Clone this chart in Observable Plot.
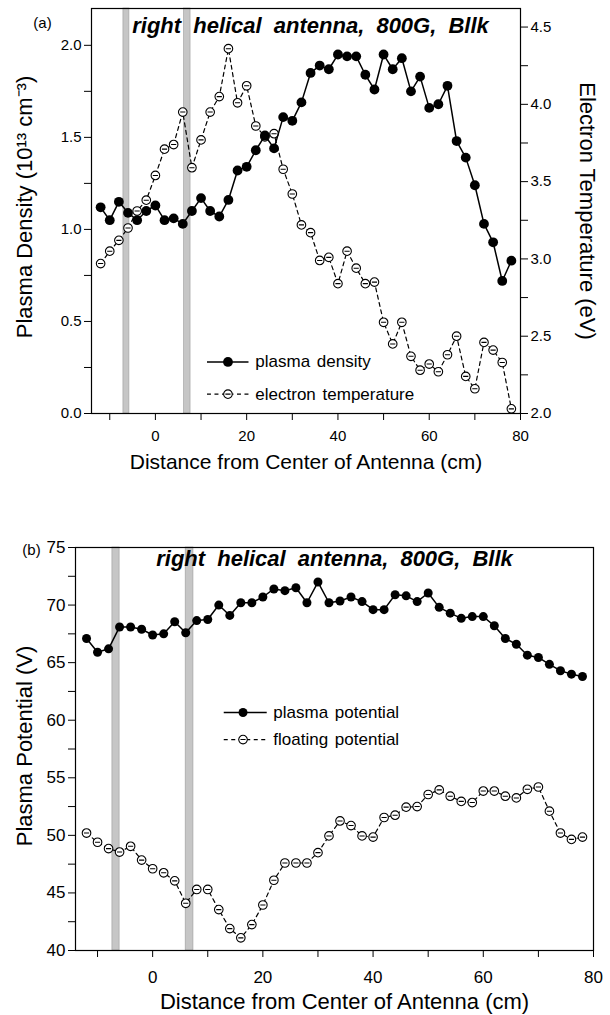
<!DOCTYPE html>
<html><head><meta charset="utf-8">
<script src="https://cdn.jsdelivr.net/npm/d3@7"></script>
<script src="https://cdn.jsdelivr.net/npm/@observablehq/plot@0.6"></script>
<style>
body{margin:0;background:#fff;}
#wrap{position:relative;width:610px;height:1015px;overflow:hidden;background:#fff;}
#wrap svg{position:absolute;left:0;overflow:visible;}
</style></head><body><div id="wrap"></div>
<script>
// ---------- data ----------
const positions = [-12,-10,-8,-6,-4,-2,0,2,4,6,8,10,12,14,16,18,20,22,24,26,28,30,32,34,36,38,40,42,44,46,48,50,52,54,56,58,60,62,64,66,68,70,72,74,76,78];
const density = [1.12,1.05,1.15,1.09,1.05,1.10,1.13,1.05,1.06,1.03,1.10,1.17,1.10,1.07,1.16,1.32,1.34,1.43,1.51,1.44,1.61,1.59,1.69,1.85,1.89,1.87,1.95,1.94,1.94,1.84,1.76,1.95,1.87,1.93,1.75,1.83,1.66,1.68,1.78,1.48,1.39,1.24,1.03,0.93,0.72,0.83];
const temperature = [2.97,3.05,3.12,3.20,3.31,3.38,3.54,3.71,3.74,3.95,3.59,3.77,3.95,4.05,4.36,4.01,4.12,3.86,3.79,3.81,3.58,3.42,3.22,3.17,2.99,3.01,2.84,3.05,2.94,2.84,2.85,2.59,2.45,2.59,2.37,2.28,2.32,2.27,2.38,2.50,2.24,2.16,2.46,2.41,2.33,2.03];
const plasmaPotential = [67.1,65.9,66.2,68.1,68.1,67.9,67.4,67.5,68.55,67.6,68.65,68.75,70.0,69.1,70.2,70.2,70.7,71.4,71.25,71.5,70.2,72.0,70.2,70.35,70.7,70.3,69.6,69.6,70.9,70.8,70.3,71.05,69.8,69.3,68.85,69.0,69.0,68.2,67.1,66.6,65.65,65.45,64.85,64.3,64.0,63.8];
const floatingPotential = [50.2,49.4,48.85,48.55,49.05,47.85,47.1,46.75,46.05,44.1,45.3,45.3,43.55,41.9,41.1,42.25,43.95,46.1,47.6,47.6,47.6,48.5,49.95,51.25,50.85,49.95,49.85,51.55,51.75,52.45,52.5,53.55,53.95,53.4,52.95,52.85,53.85,53.85,53.4,53.25,54.0,54.2,52.1,50.2,49.65,49.85];
const antennaBandsA = [[-7.0,-5.7],[6.3,7.7]];
const antennaBandsB = [[-7.3,-6.0],[6.0,7.4]];
const xMajor = [0,20,40,60,80];
const xMinor = [-10,10,30,50,70];
const densMajor = [0,0.5,1.0,1.5,2.0];
const densMinor = [0.25,0.75,1.25,1.75];
const tempMajor = [2.0,2.5,3.0,3.5,4.0,4.5];
const tempMinor = [2.25,2.75,3.25,3.75,4.25];
const potMajor = [40,45,50,55,60,65,70,75];
const potMinor = [42.5,47.5,52.5,57.5,62.5,67.5,72.5];
const titleText = "right helical antenna, 800G, Bllk";
const xTitle = "Distance from Center of Antenna (cm)";
const legendA = ["plasma density", "electron temperature"];
const legendB = ["plasma potential", "floating potential"];

// ---------- layout ----------
const FONT = "'Liberation Sans', Arial, Helvetica, sans-serif";
const densDomain = [0, 2.2];
const tempDomain = [2, 4.62];
const k = (densDomain[1] - densDomain[0]) / (tempDomain[1] - tempDomain[0]);
const toDens = t => (t - tempDomain[0]) * k;
const fromDens = d => d / k + tempDomain[0];

const theta = {
  draw(context, size) {
    const r = Math.sqrt(size / Math.PI);
    context.moveTo(r, 0);
    context.arc(0, 0, r, 0, 2 * Math.PI);
    context.moveTo(-r * 0.6, 0);
    context.lineTo(r * 0.6, 0);
  }
};

const tableA = positions.map((x, i) => ({x, density: density[i], temp: toDens(temperature[i])}));
const tableB = positions.map((x, i) => ({x, vp: plasmaPotential[i], vf: floatingPotential[i]}));

function axes(yMajor, yMinor, yFmt, fs, xPad) {
  return [
    Plot.axisX({ticks: xMajor, tickSize: 7, tickPadding: xPad, fontSize: fs, label: null, tickFormat: d => String(d)}),
    Plot.axisX({ticks: xMinor, tickSize: 7, tickFormat: () => "", label: null}),
    Plot.axisY({anchor: "left", ticks: yMajor, tickSize: 7, tickPadding: 3, fontSize: fs, tickFormat: yFmt, label: null}),
    Plot.axisY({anchor: "left", ticks: yMinor, tickSize: 7, tickFormat: () => "", label: null})
  ];
}
const bandStyle = {fill: "#c6c6c6", stroke: "#a4a4a4", strokeWidth: 0.7};

// ---------- panel (a) ----------
const la = {x1: 11.3, x2: 20.4, xm: 15.9, xt: 21.9, y: [0.28, 0.105]};
const plotA = Plot.plot({
  width: 610, height: 490,
  marginTop: 8, marginLeft: 91, marginRight: 90, marginBottom: 77,
  x: {domain: [-14, 80]},
  y: {domain: densDomain},
  style: {fontFamily: FONT, fontSize: "15px", color: "black", background: "transparent"},
  marks: [
    Plot.rect(antennaBandsA, {x1: d => d[0], x2: d => d[1], ...bandStyle}),
    Plot.line(tableA, {x: "x", y: "temp", stroke: "black", strokeWidth: 1.2, strokeDasharray: "4,3.5"}),
    Plot.dot(tableA, {x: "x", y: "temp", r: 4.3, symbol: theta, fill: "white", stroke: "black", strokeWidth: 1.1}),
    Plot.line(tableA, {x: "x", y: "density", stroke: "black", strokeWidth: 1.5}),
    Plot.dot(tableA, {x: "x", y: "density", r: 4.9, fill: "black"}),
    Plot.frame({stroke: "black", strokeWidth: 1.2}),
    ...axes(densMajor, densMinor, d3.format(".1f"), 15, 10),
    Plot.axisY({anchor: "right", ticks: tempMajor.map(toDens), tickSize: 7, tickPadding: 3, fontSize: 15, tickFormat: d => fromDens(d).toFixed(1), label: null}),
    Plot.axisY({anchor: "right", ticks: tempMinor.map(toDens), tickSize: 7, tickFormat: () => "", label: null}),
    // legend
    Plot.link([0], {x1: la.x1, x2: la.x2, y1: la.y[0], y2: la.y[0], stroke: "black", strokeWidth: 1.5}),
    Plot.dot([0], {x: la.xm, y: la.y[0], r: 4.9, fill: "black"}),
    Plot.link([0], {x1: la.x1, x2: la.x2, y1: la.y[1], y2: la.y[1], stroke: "black", strokeWidth: 1.2, strokeDasharray: "4,3.5"}),
    Plot.dot([0], {x: la.xm, y: la.y[1], r: 4.3, symbol: theta, fill: "white", stroke: "black", strokeWidth: 1.1}),
    Plot.text(legendA, {x: la.xt, y: (d, i) => la.y[i], text: d => d, textAnchor: "start", lineAnchor: "middle", fontSize: 17}),
    // titles
    Plot.text([titleText], {frameAnchor: "top", dx: 4.5, dy: 24, textAnchor: "middle", lineAnchor: "bottom", text: d => d, fontSize: 22, fontWeight: "bold", fontStyle: "italic"}),
    Plot.text([xTitle], {frameAnchor: "bottom", dy: 49, textAnchor: "middle", lineAnchor: "middle", text: d => d, fontSize: 21}),
    Plot.text(["Plasma Density (10¹³ cm⁻³)"], {frameAnchor: "left", dx: -67, dy: -4, rotate: -90, textAnchor: "middle", lineAnchor: "middle", text: d => d, fontSize: 22}),
    Plot.text(["Electron Temperature (eV)"], {frameAnchor: "right", dx: 67, rotate: 90, textAnchor: "middle", lineAnchor: "middle", text: d => d, fontSize: 22}),
    Plot.text(["(a)"], {frameAnchor: "top-left", dx: -49, dy: 15, textAnchor: "middle", lineAnchor: "middle", text: d => d, fontSize: 15})
  ]
});

// ---------- panel (b) ----------
const lb = {x1: 12.9, x2: 20.7, xm: 16.4, xt: 21.9, y: [60.67, 58.32]};
const plotB = Plot.plot({
  width: 610, height: 525,
  marginTop: 57, marginLeft: 75, marginRight: 17, marginBottom: 65,
  x: {domain: [-14, 80]},
  y: {domain: [40, 75]},
  style: {fontFamily: FONT, fontSize: "17px", color: "black", background: "transparent"},
  marks: [
    Plot.rect(antennaBandsB, {x1: d => d[0], x2: d => d[1], ...bandStyle}),
    Plot.line(tableB, {x: "x", y: "vf", stroke: "black", strokeWidth: 1.2, strokeDasharray: "4,3.5"}),
    Plot.dot(tableB, {x: "x", y: "vf", r: 4.3, symbol: theta, fill: "white", stroke: "black", strokeWidth: 1.1}),
    Plot.line(tableB, {x: "x", y: "vp", stroke: "black", strokeWidth: 1.5}),
    Plot.dot(tableB, {x: "x", y: "vp", r: 4.5, fill: "black"}),
    Plot.frame({stroke: "black", strokeWidth: 1.2}),
    ...axes(potMajor, potMinor, d => String(d), 17, 13),
    // legend
    Plot.link([0], {x1: lb.x1, x2: lb.x2, y1: lb.y[0], y2: lb.y[0], stroke: "black", strokeWidth: 1.5}),
    Plot.dot([0], {x: lb.xm, y: lb.y[0], r: 4.5, fill: "black"}),
    Plot.link([0], {x1: lb.x1, x2: lb.x2, y1: lb.y[1], y2: lb.y[1], stroke: "black", strokeWidth: 1.2, strokeDasharray: "4,3.5"}),
    Plot.dot([0], {x: lb.xm, y: lb.y[1], r: 4.3, symbol: theta, fill: "white", stroke: "black", strokeWidth: 1.1}),
    Plot.text(legendB, {x: lb.xt, y: (d, i) => lb.y[i], text: d => d, textAnchor: "start", lineAnchor: "middle", fontSize: 17}),
    // titles
    Plot.text([titleText], {frameAnchor: "top", dy: 18, textAnchor: "middle", lineAnchor: "bottom", text: d => d, fontSize: 22, fontWeight: "bold", fontStyle: "italic"}),
    Plot.text([xTitle], {frameAnchor: "bottom", dx: 10, dy: 43, textAnchor: "middle", lineAnchor: "top", text: d => d, fontSize: 22}),
    Plot.text(["Plasma Potential (V)"], {frameAnchor: "left", dx: -51, dy: -3, rotate: -90, textAnchor: "middle", lineAnchor: "middle", text: d => d, fontSize: 22}),
    Plot.text(["(b)"], {frameAnchor: "top-left", dx: -44, dy: 3, textAnchor: "middle", lineAnchor: "middle", text: d => d, fontSize: 15})
  ]
});

// widen word gaps of the in-panel title and legend, as in the reference
for (const svg of [plotA, plotB]) {
  svg.querySelectorAll("text").forEach(t => {
    if (t.textContent === titleText) t.style.wordSpacing = "6px";
    else if (legendA.includes(t.textContent) || legendB.includes(t.textContent)) t.style.wordSpacing = "2px";
  });
}

const wrap = document.getElementById("wrap");
plotA.style.top = "0px";
plotB.style.top = "490px";
wrap.appendChild(plotA);
wrap.appendChild(plotB);
</script>
</body></html>
